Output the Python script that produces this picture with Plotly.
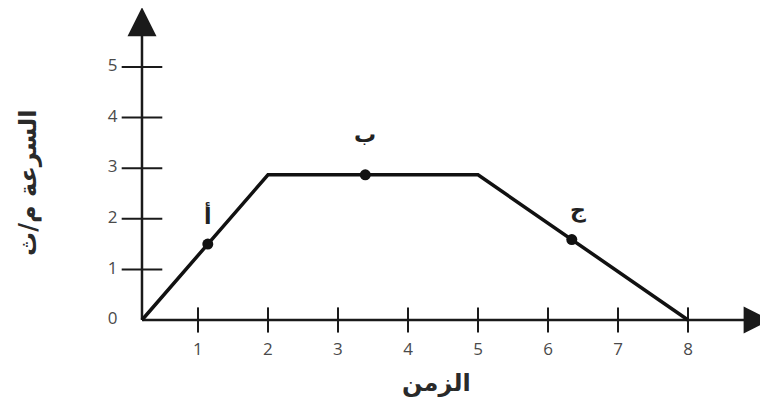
import plotly.graph_objects as go

# ---- data ----
times = [0.2, 2, 5, 8]
speeds = [0, 2.87, 2.87, 0]
point_labels = ["أ", "ب", "ج"]
point_x = [1.14, 3.39, 6.34]
point_y = [1.50, 2.87, 1.59]
x_ticks = [1, 2, 3, 4, 5, 6, 7, 8]
y_ticks = [0, 1, 2, 3, 4, 5]
x_title = "الزمن"
y_title = "السرعة م/ث"

origin_x = 0.2
x_end = 9.18
y_end = 6.18

AX = "#1a1a1a"
TICKFONT = dict(family="Open Sans, DejaVu Sans, sans-serif", size=17, color="#4a4a4a")
AR = dict(family="DejaVu Sans, sans-serif", size=22, color="#222222")
TITLEFONT = dict(family="DejaVu Sans, sans-serif", size=24, color="#2a2a2a")

fig = go.Figure()

# axes lines
fig.add_trace(go.Scatter(x=[origin_x, x_end - 0.3], y=[0, 0], mode="lines",
                         line=dict(color=AX, width=2.5), hoverinfo="skip"))
fig.add_trace(go.Scatter(x=[origin_x, origin_x], y=[0, y_end - 0.4], mode="lines",
                         line=dict(color=AX, width=2.5), hoverinfo="skip"))

# arrowheads as markers at the axis ends
fig.add_trace(go.Scatter(x=[x_end], y=[0], mode="markers",
                         marker=dict(symbol="arrow-right", size=27, color=AX,
                                     line=dict(width=0)), hoverinfo="skip"))
fig.add_trace(go.Scatter(x=[origin_x], y=[y_end], mode="markers",
                         marker=dict(symbol="arrow-up", size=29, color=AX,
                                     line=dict(width=0)), hoverinfo="skip"))

# tick marks
fig.add_trace(go.Scatter(x=x_ticks, y=[0] * len(x_ticks), mode="markers",
                         marker=dict(symbol="line-ns", size=18, line=dict(color=AX, width=2)),
                         hoverinfo="skip"))
fig.add_trace(go.Scatter(x=[origin_x] * (len(y_ticks) - 1), y=y_ticks[1:], mode="markers",
                         marker=dict(symbol="line-ew", size=29, line=dict(color=AX, width=2)),
                         hoverinfo="skip"))

# tick labels
fig.add_trace(go.Scatter(x=x_ticks, y=[-0.6] * len(x_ticks), mode="text",
                         text=[str(v) for v in x_ticks], textfont=TICKFONT, hoverinfo="skip"))
fig.add_trace(go.Scatter(x=[-0.22] * len(y_ticks), y=y_ticks, mode="text",
                         text=[str(v) for v in y_ticks], textfont=TICKFONT, hoverinfo="skip"))

# speed-time line
fig.add_trace(go.Scatter(x=times, y=speeds, mode="lines",
                         line=dict(color="#111111", width=3.5), hoverinfo="skip"))

# points
fig.add_trace(go.Scatter(x=point_x, y=point_y, mode="markers",
                         marker=dict(color="#111111", size=11), hoverinfo="skip"))

annotations = []
shifts = [(0, 29), (0, 40), (6, 30)]
for lab, px, py, (dx, dy) in zip(point_labels, point_x, point_y, shifts):
    annotations.append(dict(x=px, y=py, xref="x", yref="y", text="<b>%s</b>" % lab,
                            showarrow=False, xshift=dx, yshift=dy, font=AR))

# axis titles
annotations.append(dict(x=4.4, y=-1.25, xref="x", yref="y", text="<b>%s</b>" % x_title,
                        showarrow=False, font=TITLEFONT))
annotations.append(dict(x=-1.42, y=2.7, xref="x", yref="y", text="<b>%s</b>" % y_title,
                        showarrow=False, textangle=-90, font=TITLEFONT))

# page has an 8px body margin; ranges are set so that data lands on the reference pixels
fig.update_layout(
    width=768, height=415,
    margin=dict(l=0, r=0, t=0, b=0),
    paper_bgcolor="white", plot_bgcolor="white",
    showlegend=False,
    xaxis=dict(range=[-1.714, 9.257], visible=False, fixedrange=True),
    yaxis=dict(range=[-2.036, 6.166], visible=False, fixedrange=True),
    annotations=annotations,
)

fig.write_html("out.html")
